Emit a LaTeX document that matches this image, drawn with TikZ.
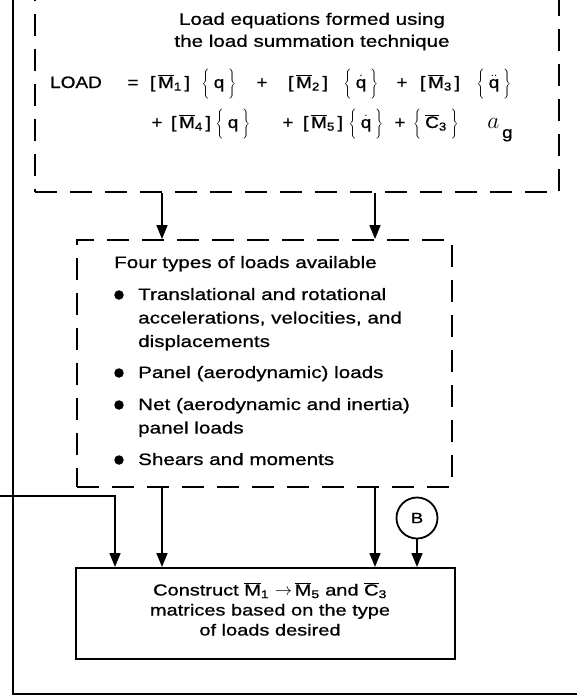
\documentclass[tikz,border=0pt]{standalone}
\usepackage{fontspec}
\setmainfont{Liberation Sans}[FakeStretch=1.25,FakeBold=0.8]
\newfontfamily\eqfont{Liberation Sans}[FakeStretch=1.15,FakeBold=0.8]
\usetikzlibrary{arrows.meta,calc}
\tikzset{
 ln/.style={line width=1.8pt},
 dbox/.style={draw, line width=1.9pt, dash pattern=on 22pt off 13pt, inner sep=0pt},
 sbox/.style={draw, line width=2pt, inner sep=0pt},
 arr/.style={line width=1.6pt, -{Triangle[length=14pt,width=11pt]}},
 txt/.style={inner sep=0pt, font=\fontsize{16.5}{22}\selectfont},
 ltxt/.style={inner sep=0pt, anchor=base west, font=\fontsize{16.5}{22}\selectfont},
 ctxt/.style={inner sep=0pt, align=center, font=\fontsize{16}{20}\selectfont},
 eq/.style={inner sep=0pt, anchor=base, font=\eqfont\fontsize{16.5}{20}\selectfont},
 bul/.style={circle, fill, inner sep=0pt, minimum size=9.5pt},
}
\newcommand\Mb[1]{[\,$\overline{\hbox{M}}$\textsubscript{#1}\,]}
\newcommand\Br[1]{$\left\{\rule[-7pt]{0pt}{25pt}\right.$\,#1\,$\left.\rule[-7pt]{0pt}{25pt}\right\}$}
\begin{document}
\begin{tikzpicture}[x=1pt,y=-1pt]
\useasboundingbox (0,0) rectangle (577,697);
\clip (0,0) rectangle (577,697);
% outer frame
\coordinate (ft) at (13,-5);
\coordinate (fb) at (13,694);
\coordinate (fr) at (582,694);
\draw[ln] (ft) -- (fb) -- (fr);
% top dashed box
\node[dbox, anchor=south west, minimum width=524pt, minimum height=230pt] (top) at (34,193) {};
\node[txt, align=center] (hdr) at (312,31.5) {Load equations formed using\\the load summation technique};
% equation line 1
\node[eq] (load) at (76,88) {LOAD};
\node[eq] (eqs) at (133,88) {=};
\node[eq] (m1) at (170,88) {\Mb{1}};
\node[eq] (q1) at (219,88) {\Br{q}};
\node[eq] (p1) at (262,88) {+};
\node[eq] (m2) at (308,88) {\Mb{2}};
\node[eq] (q2) at (361,88) {\Br{$\dot{\hbox{q}}$}};
\node[eq] (p2) at (402,88) {+};
\node[eq] (m3) at (440,88) {\Mb{3}};
\node[eq] (q3) at (494,88) {\Br{$\ddot{\hbox{q}}$}};
% equation line 2
\node[eq] (p3) at (157,128) {+};
\node[eq] (m4) at (191,128) {\Mb{4}};
\node[eq] (q4) at (233,128) {\Br{q}};
\node[eq] (p4) at (288,128) {+};
\node[eq] (m5) at (323,128) {\Mb{5}};
\node[eq] (q5) at (366,128) {\Br{$\dot{\hbox{q}}$}};
\node[eq] (p5) at (400,128) {+};
\node[eq] (c3) at (436,128) {\Br{$\overline{\hbox{C}}$\textsubscript{3}}};
\node[eq] (ag) at (500,128) {\scalebox{1.35}{$a$}\raisebox{-10pt}{\,g}};
% middle dashed box
\node[dbox, minimum width=375pt, minimum height=247pt] (mid) at (264.5,363.5) {};
\node[ltxt] (four) at (114,268) {Four types of loads available};
\node[bul] (bu1) at (119,295) {};
\node[ltxt] (t1a) at (138,300) {Translational and rotational};
\node[ltxt] (t1b) at (138,323.5) {accelerations, velocities, and};
\node[ltxt] (t1c) at (138,347) {displacements};
\node[bul] (bu2) at (119,373) {};
\node[ltxt] (t2) at (138,378) {Panel (aerodynamic) loads};
\node[bul] (bu3) at (119,405) {};
\node[ltxt] (t3a) at (138,410) {Net (aerodynamic and inertia)};
\node[ltxt] (t3b) at (138,433.5) {panel loads};
\node[bul] (bu4) at (119,460) {};
\node[ltxt] (t4) at (138,465) {Shears and moments};
% bottom box
\node[sbox, minimum width=379pt, minimum height=91pt] (b3) at (265.5,613.5) {};
\node[ctxt] (b3t) at (270,609) {Construct $\overline{\hbox{M}}$\textsubscript{1} $\rightarrow$\,$\overline{\hbox{M}}$\textsubscript{5} and $\overline{\hbox{C}}$\textsubscript{3}\\matrices based on the type\\of loads desired};
% circle B
\node[circle, draw, line width=1.8pt, minimum size=41pt, inner sep=0pt, font=\fontsize{15}{18}\selectfont] (B) at (417,518) {B};
% connectors
\coordinate (xa) at (162,0);
\coordinate (xb) at (375,0);
\coordinate (xf) at (115,0);
\coordinate (fs) at (0,496);
\draw[arr] (xa |- top.south) -- (xa |- mid.north);
\draw[arr] (xb |- top.south) -- (xb |- mid.north);
\draw[arr] (xa |- mid.south) -- (xa |- b3.north);
\draw[arr] (xb |- mid.south) -- (xb |- b3.north);
\draw[arr] (fs) -| (xf |- b3.north);
\draw[arr] (B.south) -- (B.south |- b3.north);
\end{tikzpicture}
\end{document}
